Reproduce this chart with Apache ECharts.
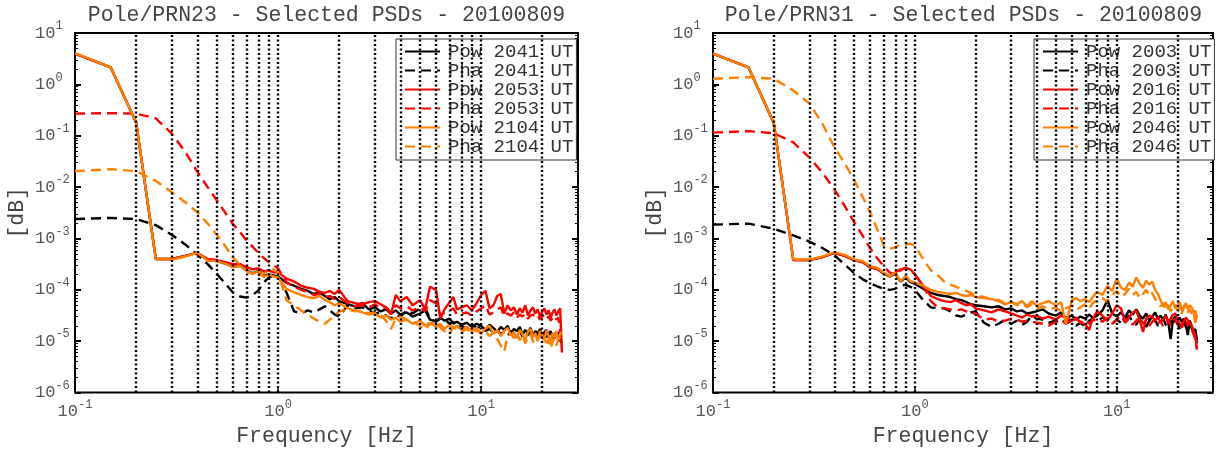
<!DOCTYPE html>
<html>
<head>
<meta charset="utf-8">
<script src="https://cdn.jsdelivr.net/npm/echarts@6/dist/echarts.min.js"></script>
<style>
html, body { margin: 0; padding: 0; background: #fff; }
#main { width: 1216px; height: 452px; }
</style>
</head>
<body>
<div id="main"></div>
<script>
// frequency bins [Hz]
var freqHz = [0.1,0.15,0.2,0.25,0.3,0.35,0.4,0.45,0.5,0.55,0.6,0.65,0.7,0.75,0.8,0.85,0.9,0.95,1.0,
	1.1,1.2,1.3,1.4,1.5,1.6,1.7,1.8,1.9,2.0,2.2,2.4,2.6,2.8,3.0,3.2,3.4,3.6,3.8,4.0,
	4.3,4.6,5.0,5.3,5.6,6.0,6.3,6.6,7.0,7.3,7.6,8.0,
	8.5,9,9.5,10,10.5,11,11.5,12,12.5,13,13.5,14,14.5,15,15.5,16,16.5,
	17,17.5,18,18.5,19,19.5,20,20.5,21,21.5,22,22.5,23,23.5,24,24.5,25];

// PSD values, as log10 exponents
var prn23Pow2041 = [0.60,0.33,-0.74,-3.40,-3.40,-3.34,-3.28,-3.42,-3.44,-3.49,-3.55,-3.53,-3.62,-3.68,-3.63,-3.73,-3.70,-3.72,-3.74,
	-3.86,-3.92,-3.98,-4.02,-4.08,-4.05,-4.12,-4.18,-4.14,-4.22,-4.28,-4.32,-4.26,-4.38,-4.34,-4.42,-4.38,-4.46,-4.40,-4.48,
	-4.44,-4.52,-4.46,-4.40,-4.58,-4.62,-4.54,-4.60,-4.56,-4.66,-4.62,-4.68,
	-4.64,-4.72,-4.66,-4.70,-4.78,-4.68,-4.74,-4.82,-4.72,-4.78,-4.70,-4.86,-4.76,-4.80,-4.72,-4.88,-4.78,
	-4.84,-4.74,-4.90,-4.80,-4.86,-4.76,-4.92,-4.82,-4.78,-4.88,-4.80,-4.94,-4.84,-4.90,-4.82,-4.96,-4.98];
var prn23Pha2041 = [-2.62,-2.60,-2.62,-2.74,-2.93,-3.12,-3.31,-3.50,-3.69,-3.88,-4.05,-4.13,-4.15,-4.10,-4.01,-3.86,-3.76,-3.72,-3.73,
	-4.05,-4.42,-4.46,-4.40,-4.44,-4.38,-4.32,-4.40,-4.48,-4.52,-4.30,-4.36,-4.34,-4.40,-4.46,-4.44,-4.50,-4.56,-4.48,-4.52,
	-4.40,-4.46,-4.36,-4.34,-4.56,-4.62,-4.56,-4.58,-4.66,-4.62,-4.74,-4.70,
	-4.76,-4.68,-4.74,-4.72,-4.80,-4.76,-4.84,-4.78,-4.86,-4.82,-4.90,-4.80,-4.84,-4.88,-4.78,-4.92,-4.84,
	-4.88,-4.82,-4.94,-4.86,-4.90,-4.84,-4.96,-4.88,-4.92,-4.86,-4.98,-4.90,-4.94,-4.88,-5.00,-4.96,-5.04];
var prn23Pow2053 = [0.60,0.33,-0.74,-3.40,-3.40,-3.34,-3.28,-3.40,-3.42,-3.46,-3.50,-3.50,-3.56,-3.60,-3.58,-3.64,-3.62,-3.66,-3.66,
	-3.78,-3.84,-3.92,-3.96,-3.98,-4.04,-4.06,-4.02,-4.08,-4.00,-4.22,-4.26,-4.28,-4.24,-4.22,-4.28,-4.34,-4.48,-4.10,-4.22,
	-4.14,-4.30,-4.20,-4.38,-3.94,-4.00,-4.56,-4.38,-4.24,-4.14,-4.38,-4.34,
	-4.30,-4.40,-4.26,-4.10,-4.02,-4.36,-4.30,-4.12,-4.08,-4.46,-4.30,-4.40,-4.34,-4.48,-4.36,-4.44,-4.30,
	-4.50,-4.40,-4.34,-4.46,-4.38,-4.52,-4.42,-4.36,-4.48,-4.40,-4.54,-4.44,-4.38,-4.50,-4.42,-4.36,-5.22];
var prn23Pha2053 = [-0.57,-0.56,-0.57,-0.66,-0.96,-1.32,-1.70,-2.00,-2.26,-2.50,-2.72,-2.88,-3.04,-3.16,-3.28,-3.38,-3.46,-3.52,-3.58,
	-3.86,-3.94,-4.00,-4.04,-4.10,-4.08,-4.14,-4.12,-4.18,-4.14,-4.26,-4.32,-4.30,-4.34,-4.28,-4.36,-4.34,-4.44,-4.30,-4.36,
	-4.32,-4.40,-4.34,-4.42,-4.20,-4.26,-4.50,-4.44,-4.40,-4.36,-4.48,-4.46,
	-4.44,-4.50,-4.42,-4.36,-4.30,-4.48,-4.44,-4.38,-4.34,-4.52,-4.46,-4.50,-4.44,-4.54,-4.48,-4.52,-4.46,
	-4.56,-4.50,-4.48,-4.54,-4.50,-4.58,-4.52,-4.48,-4.56,-4.52,-4.60,-4.54,-4.50,-4.58,-4.54,-4.56,-5.10];
var prn23Pow2104 = [0.61,0.33,-0.74,-3.40,-3.41,-3.35,-3.28,-3.43,-3.44,-3.49,-3.56,-3.53,-3.63,-3.69,-3.63,-3.75,-3.70,-3.74,-3.76,
	-3.98,-4.05,-4.10,-4.14,-4.16,-4.12,-4.20,-4.24,-4.30,-4.26,-4.36,-4.40,-4.44,-4.48,-4.46,-4.54,-4.50,-4.58,-4.54,-4.62,
	-4.58,-4.66,-4.60,-4.70,-4.64,-4.72,-4.66,-4.76,-4.68,-4.74,-4.70,-4.78,
	-4.72,-4.80,-4.74,-4.84,-4.76,-4.70,-4.86,-4.78,-4.90,-4.80,-4.74,-4.88,-4.82,-4.94,-4.78,-4.86,-4.98,
	-4.82,-4.76,-4.92,-4.84,-5.00,-4.80,-4.88,-4.96,-4.78,-4.90,-5.02,-4.84,-4.92,-4.80,-4.98,-4.86,-4.82];
var prn23Pha2104 = [-1.69,-1.65,-1.69,-1.88,-2.10,-2.30,-2.49,-2.71,-2.93,-3.15,-3.37,-3.52,-3.63,-3.70,-3.72,-3.68,-3.62,-3.60,-3.66,
	-4.20,-4.30,-4.40,-4.48,-4.56,-4.62,-4.66,-4.58,-4.50,-4.42,-4.38,-4.42,-4.40,-4.46,-4.44,-4.48,-4.60,-4.76,-4.56,-4.52,
	-4.58,-4.62,-4.70,-4.78,-4.66,-4.62,-4.74,-4.80,-4.86,-4.72,-4.78,-4.82,
	-4.76,-4.84,-4.78,-4.86,-4.80,-4.90,-4.84,-4.96,-5.08,-5.20,-4.90,-4.86,-4.94,-4.82,-4.98,-4.88,-5.04,
	-4.92,-4.86,-5.00,-5.06,-4.94,-4.88,-5.02,-4.92,-5.10,-4.96,-5.14,-5.00,-4.94,-5.08,-4.98,-4.90,-4.84];

var prn31Pow2003 = [0.60,0.33,-0.75,-3.42,-3.42,-3.36,-3.28,-3.34,-3.42,-3.46,-3.56,-3.59,-3.68,-3.74,-3.69,-3.84,-3.75,-3.85,-3.88,
	-3.98,-4.06,-4.10,-4.12,-4.14,-4.18,-4.20,-4.24,-4.28,-4.30,-4.32,-4.34,-4.32,-4.38,-4.36,-4.42,-4.40,-4.46,-4.44,-4.42,
	-4.38,-4.46,-4.50,-4.44,-4.54,-4.50,-4.58,-4.52,-4.56,-4.48,-4.54,-4.50,
	-4.40,-4.20,-4.46,-4.52,-4.44,-4.54,-4.40,-4.48,-4.38,-4.50,-4.56,-4.46,-4.60,-4.52,-4.44,-4.56,-4.50,
	-4.58,-4.48,-4.62,-4.96,-4.58,-4.52,-4.60,-4.54,-4.62,-4.56,-4.66,-4.88,-4.60,-4.70,-4.82,-4.76,-4.98];
var prn31Pha2003 = [-2.73,-2.71,-2.81,-2.94,-3.06,-3.19,-3.33,-3.51,-3.67,-3.79,-3.87,-3.93,-3.98,-4.00,-3.98,-3.92,-3.90,-3.94,-4.00,
	-4.20,-4.34,-4.36,-4.36,-4.42,-4.50,-4.52,-4.48,-4.44,-4.42,-4.64,-4.72,-4.66,-4.58,-4.66,-4.60,-4.68,-4.62,-4.50,-4.56,
	-4.58,-4.64,-4.60,-4.66,-4.58,-4.62,-4.70,-4.64,-4.72,-4.60,-4.56,-4.62,
	-4.54,-4.60,-4.66,-4.58,-4.64,-4.56,-4.50,-4.62,-4.68,-4.56,-4.64,-4.72,-4.60,-4.66,-4.58,-4.70,-4.62,
	-4.56,-4.68,-4.74,-4.64,-4.58,-4.70,-4.62,-4.76,-4.66,-4.60,-4.72,-4.80,-4.68,-4.74,-4.86,-4.92,-5.04];
var prn31Pow2016 = [0.60,0.33,-0.75,-3.42,-3.42,-3.36,-3.28,-3.34,-3.42,-3.46,-3.56,-3.59,-3.68,-3.74,-3.66,-3.60,-3.58,-3.60,-3.70,
	-3.92,-4.12,-4.18,-4.22,-4.24,-4.20,-4.26,-4.30,-4.28,-4.36,-4.40,-4.44,-4.38,-4.42,-4.46,-4.50,-4.54,-4.48,-4.52,-4.50,
	-4.56,-4.52,-4.58,-4.50,-4.54,-4.60,-4.56,-4.62,-4.68,-4.78,-4.56,-4.42,
	-4.50,-4.60,-4.46,-4.30,-4.36,-4.62,-4.54,-4.44,-4.40,-4.60,-4.82,-4.56,-4.50,-4.52,-4.60,-4.54,-4.62,
	-4.58,-4.50,-4.64,-4.56,-4.48,-4.46,-4.58,-4.66,-4.72,-4.60,-4.54,-4.52,-4.64,-4.70,-4.78,-4.90,-5.16];
var prn31Pha2016 = [-0.94,-0.91,-0.95,-1.13,-1.42,-1.73,-2.05,-2.37,-2.68,-2.94,-3.19,-3.38,-3.54,-3.66,-3.70,-3.62,-3.57,-3.60,-3.70,
	-3.92,-4.22,-4.34,-4.36,-4.38,-4.40,-4.38,-4.42,-4.46,-4.46,-4.58,-4.56,-4.62,-4.60,-4.56,-4.58,-4.62,-4.60,-4.62,-4.64,
	-4.66,-4.70,-4.62,-4.58,-4.66,-4.60,-4.54,-4.64,-4.58,-4.66,-4.60,-4.56,
	-4.62,-4.54,-4.66,-4.58,-4.50,-4.64,-4.56,-4.68,-4.60,-4.52,-4.66,-4.58,-4.70,-4.62,-4.56,-4.66,-4.60,
	-4.72,-4.64,-4.58,-4.70,-4.62,-4.56,-4.68,-4.60,-4.74,-4.64,-4.58,-4.70,-4.64,-4.76,-4.86,-4.94,-5.16];
var prn31Pow2046 = [0.60,0.33,-0.75,-3.41,-3.41,-3.35,-3.27,-3.32,-3.41,-3.44,-3.54,-3.57,-3.67,-3.73,-3.67,-3.83,-3.73,-3.83,-3.86,
	-3.92,-4.00,-4.04,-4.06,-4.08,-4.06,-4.10,-4.12,-4.10,-4.14,-4.16,-4.18,-4.22,-4.28,-4.24,-4.28,-4.22,-4.32,-4.22,-4.30,
	-4.26,-4.22,-4.30,-4.24,-4.66,-4.20,-4.16,-4.22,-4.18,-4.24,-4.14,-4.04,
	-4.10,-3.92,-4.02,-3.78,-3.96,-4.00,-3.86,-3.94,-3.76,-3.88,-3.96,-3.82,-3.90,-3.84,-4.00,-4.08,-4.20,
	-4.32,-4.24,-4.38,-4.30,-4.22,-4.36,-4.30,-4.24,-4.40,-4.32,-4.26,-4.38,-4.30,-4.34,-4.42,-4.64,-4.50];
var prn31Pha2046 = [0.11,0.14,0.11,-0.12,-0.37,-0.78,-1.23,-1.54,-1.86,-2.18,-2.49,-2.81,-3.13,-3.20,-3.17,-3.11,-3.12,-3.10,-3.14,
	-3.40,-3.62,-3.72,-3.84,-3.90,-3.94,-3.98,-4.02,-4.06,-4.10,-4.14,-4.18,-4.20,-4.26,-4.22,-4.30,-4.26,-4.34,-4.28,-4.36,
	-4.32,-4.38,-4.34,-4.42,-4.36,-4.30,-4.40,-4.34,-4.28,-4.36,-4.26,-4.20,
	-4.16,-4.24,-4.10,-4.02,-4.14,-4.08,-3.98,-4.10,-4.04,-4.16,-4.08,-4.00,-4.12,-4.06,-4.18,-4.24,-4.32,
	-4.26,-4.38,-4.30,-4.42,-4.34,-4.28,-4.40,-4.34,-4.46,-4.36,-4.30,-4.44,-4.38,-4.46,-4.52,-4.40,-4.58];

// dotted vertical grid lines
var gridFreqs = [0.2,0.3,0.4,0.5,0.6,0.7,0.8,0.9,1,2,3,4,5,6,7,8,9,10,20];

var panels = [{
	title: 'Pole/PRN23 - Selected PSDs - 20100809',
	times: ['2041', '2053', '2104'],
	values: [prn23Pow2041, prn23Pha2041, prn23Pow2053, prn23Pha2053, prn23Pow2104, prn23Pha2104],
	left: 75, width: 503
}, {
	title: 'Pole/PRN31 - Selected PSDs - 20100809',
	times: ['2003', '2016', '2046'],
	values: [prn31Pow2003, prn31Pha2003, prn31Pow2016, prn31Pha2016, prn31Pow2046, prn31Pha2046],
	left: 713, width: 501
}];
var colors = ['#000000', '#ff0000', '#ff8000'];
var mono = 'Liberation Mono';

function toPairs(exps) {
	var out = [];
	for (var i = 0; i < freqHz.length && i < exps.length; i++) {
		out.push([freqHz[i], Math.pow(10, exps[i])]);
	}
	return out;
}

function powLabel(value) {
	var lg = Math.log(value) / Math.LN10;
	var e = Math.round(lg);
	if (Math.abs(lg - e) > 1e-6) return '';
	return '{b|10}{s|' + e + '}';
}

var labelRich = {
	b: { fontFamily: mono, fontSize: 17, color: '#555', lineHeight: 26 },
	s: { fontFamily: mono, fontSize: 12, color: '#555', lineHeight: 12, verticalAlign: 'top' }
};

var option = {
	animation: false,
	backgroundColor: '#fff',
	title: [], grid: [], xAxis: [], yAxis: [], legend: [], series: []
};

for (var p = 0; p < panels.length; p++) {
	var pn = panels[p];
	option.title.push({
		text: pn.title, left: pn.left + pn.width / 2, top: 4, textAlign: 'center', padding: 0,
		textStyle: { fontFamily: mono, fontSize: 21.5, fontWeight: 'normal', color: '#444' }
	});
	option.grid.push({
		left: pn.left, top: 33, width: pn.width, height: 368,
		show: true, borderColor: '#000', borderWidth: 2, backgroundColor: '#fff'
	});
	option.xAxis.push({
		type: 'log', logBase: 10, gridIndex: p, min: 0.1, max: 30,
		axisLine: { show: false },
		axisTick: { inside: true, length: 5, lineStyle: { color: '#000', width: 1.5 } },
		splitLine: { show: false },
		axisLabel: { formatter: powLabel, rich: labelRich, margin: 6 },
		name: 'Frequency [Hz]', nameLocation: 'middle', nameGap: 26,
		nameTextStyle: { fontFamily: mono, fontSize: 21.5, color: '#444' }
	});
	option.yAxis.push({
		type: 'log', logBase: 10, gridIndex: p, min: 1e-6, max: 10, position: 'left',
		axisLine: { show: false },
		axisTick: { inside: true, length: 6, lineStyle: { color: '#000', width: 2 } },
		minorTick: { show: true, splitNumber: 9, length: 3, lineStyle: { color: '#000', width: 1 } },
		splitLine: { show: false },
		axisLabel: { formatter: powLabel, rich: labelRich, align: 'left', margin: 40 },
		name: '[dB]', nameLocation: 'middle', nameGap: 47, nameRotate: 90,
		nameTextStyle: { fontFamily: mono, fontSize: 21.5, color: '#444' }
	});
	option.yAxis.push({
		type: 'log', logBase: 10, gridIndex: p, min: 1e-6, max: 10, position: 'right',
		axisLine: { show: false },
		axisTick: { inside: true, length: 6, lineStyle: { color: '#000', width: 2 } },
		minorTick: { show: true, splitNumber: 9, length: 3, lineStyle: { color: '#000', width: 1 } },
		splitLine: { show: false },
		axisLabel: { show: false }
	});

	var names = [];
	for (var k = 0; k < 6; k++) {
		var c = colors[Math.floor(k / 2)];
		var isPha = k % 2 == 1;
		var nm = (isPha ? 'Pha ' : 'Pow ') + pn.times[Math.floor(k / 2)] + ' UT';
		names.push(nm);
		var s = {
			type: 'line', name: nm, xAxisIndex: p, yAxisIndex: p * 2,
			data: toPairs(pn.values[k]), symbol: 'none', silent: true,
			color: c,
			lineStyle: { color: c, width: 2.4, type: isPha ? [10, 6] : 'solid' }
		};
		if (k == 0) {
			s.markLine = {
				silent: true, symbol: ['none', 'none'], label: { show: false },
				lineStyle: { color: '#000', type: [2, 2.5], width: 2.4, opacity: 1 },
				data: gridFreqs.map(function (f) { return { xAxis: f }; })
			};
		}
		option.series.push(s);
	}
	option.legend.push({
		data: names, orient: 'vertical', left: pn.left + 321, top: 39,
		itemWidth: 35, itemHeight: 10, itemGap: 0, padding: [3, 3, 4, 8],
		borderColor: '#333', borderWidth: 1, backgroundColor: '#fff', borderRadius: 0,
		selectedMode: false,
		itemStyle: { color: 'rgba(0,0,0,0)', borderWidth: 0, opacity: 0 },
		textStyle: { fontFamily: mono, fontSize: 19, color: '#333', lineHeight: 19, padding: [0, 0, 0, 3] }
	});
}

var myChart = echarts.init(document.getElementById('main'));
myChart.setOption(option);
</script>
</body>
</html>
